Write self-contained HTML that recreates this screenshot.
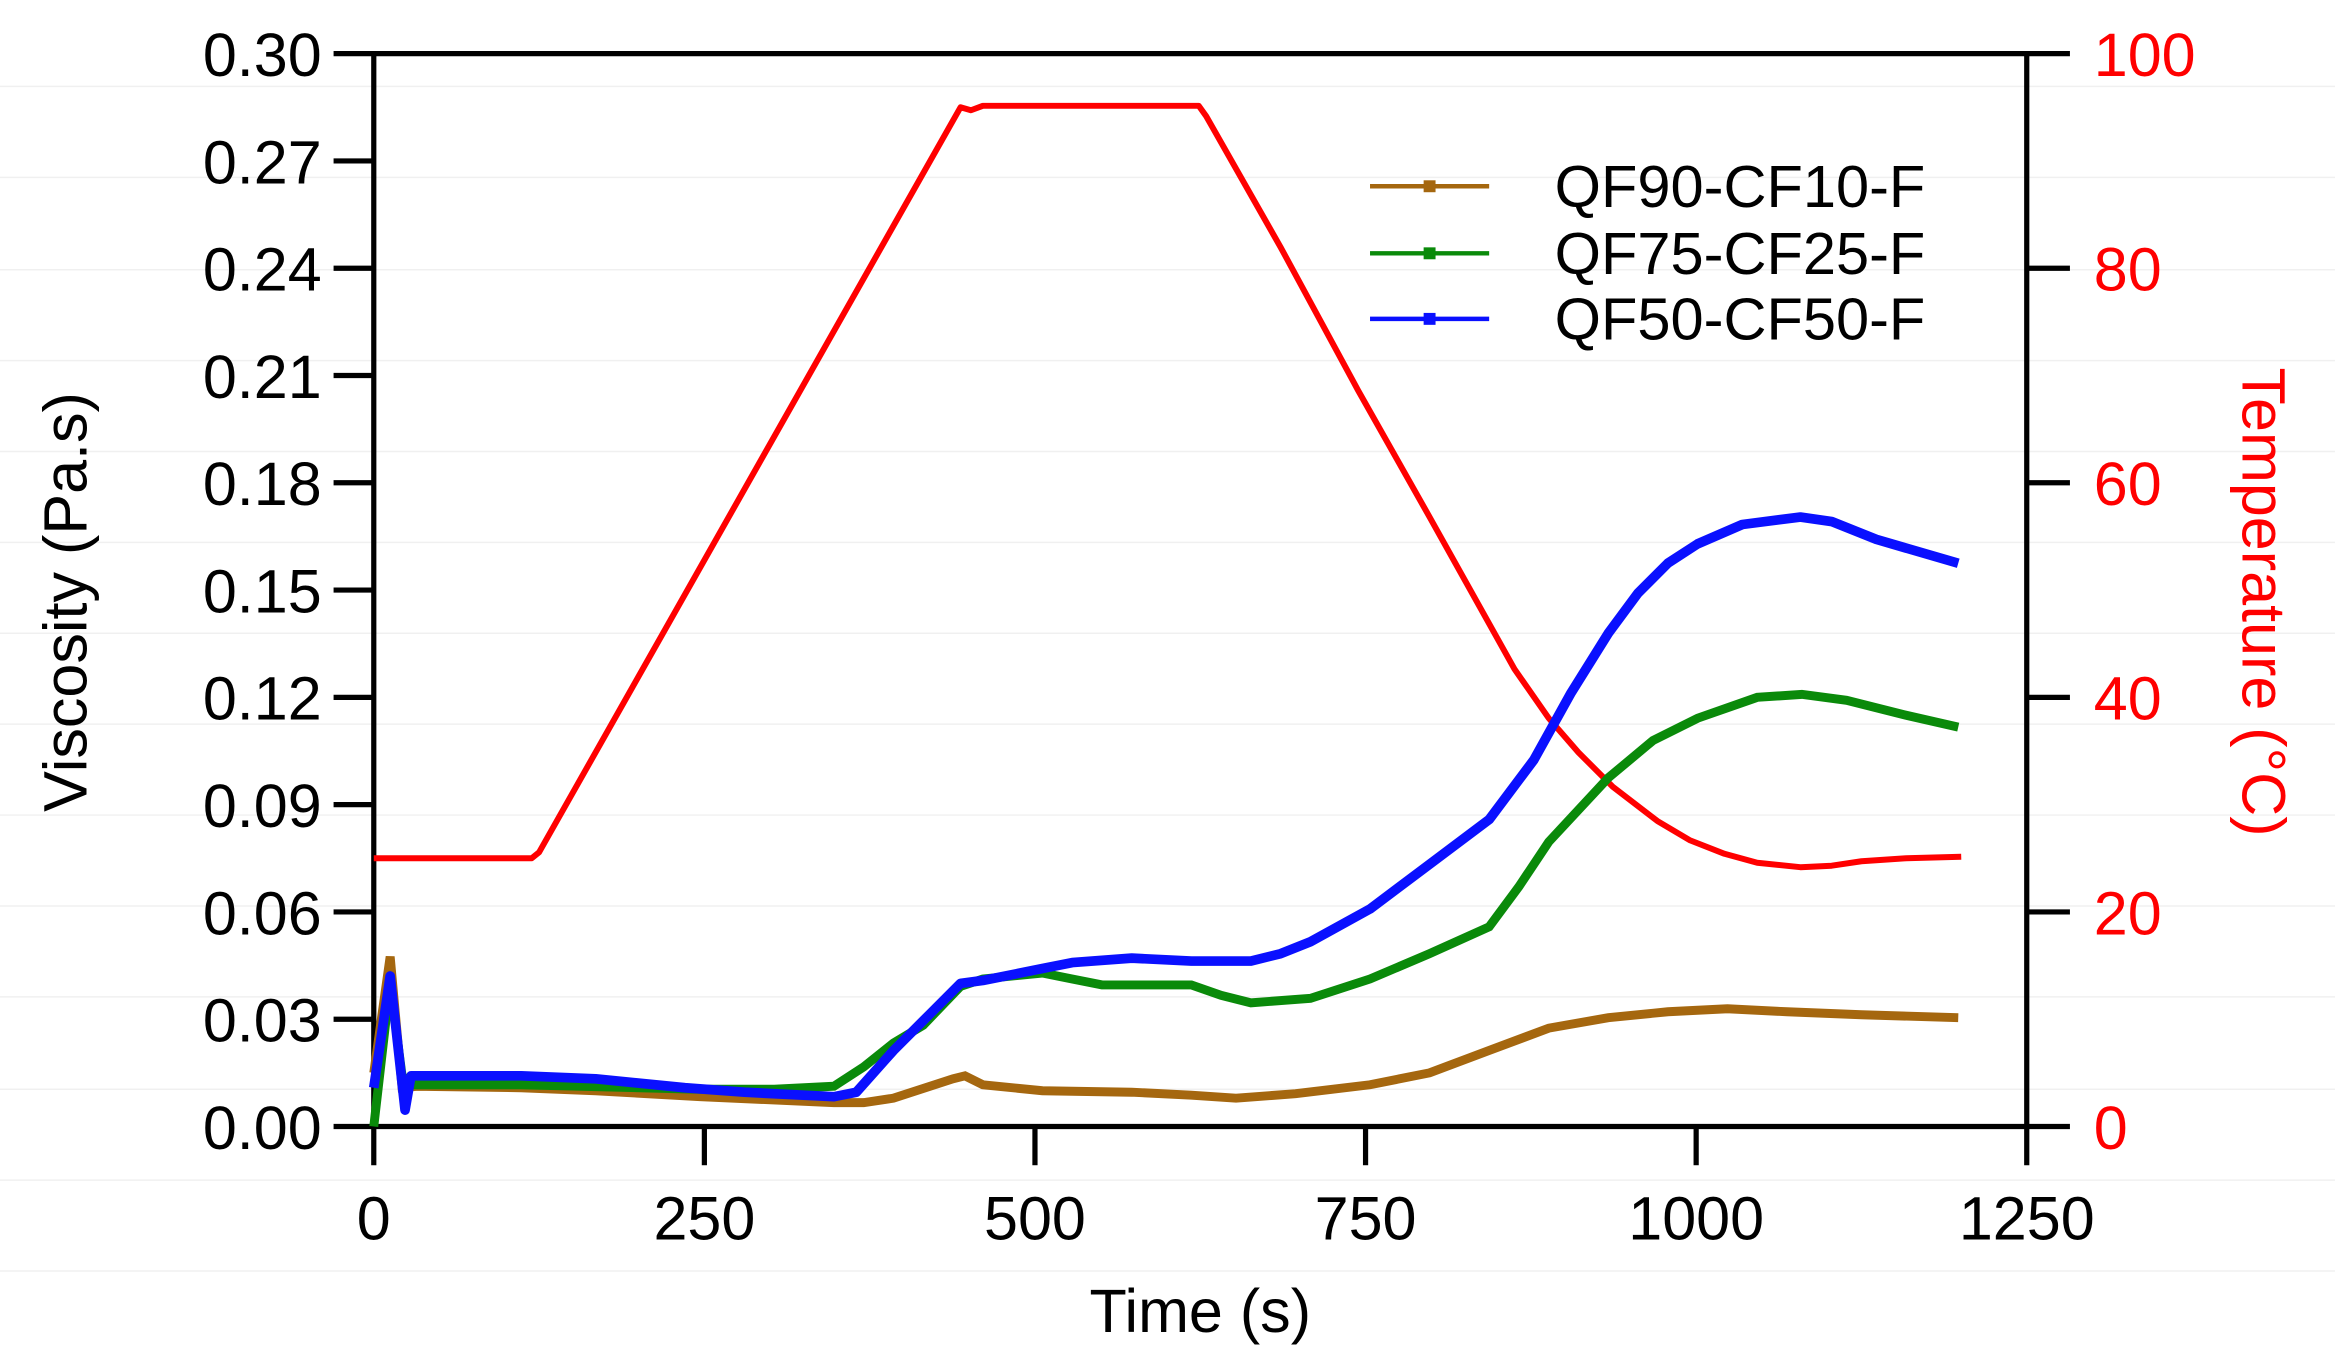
<!DOCTYPE html>
<html><head><meta charset="utf-8"><style>html,body{margin:0;padding:0;background:#fff}svg{display:block}</style></head>
<body>
<svg width="2335" height="1350" viewBox="0 0 1568 906" preserveAspectRatio="none" font-family="Liberation Sans, Arial, sans-serif">
<g stroke="#f0f0f0" stroke-width="1">
<line x1="0" y1="58" x2="1568" y2="58"/><line x1="0" y1="119" x2="1568" y2="119"/><line x1="0" y1="181" x2="1568" y2="181"/><line x1="0" y1="242" x2="1568" y2="242"/><line x1="0" y1="303" x2="1568" y2="303"/><line x1="0" y1="364" x2="1568" y2="364"/><line x1="0" y1="425" x2="1568" y2="425"/><line x1="0" y1="486" x2="1568" y2="486"/><line x1="0" y1="547" x2="1568" y2="547"/><line x1="0" y1="608" x2="1568" y2="608"/><line x1="0" y1="669" x2="1568" y2="669"/><line x1="0" y1="731" x2="1568" y2="731"/><line x1="0" y1="792" x2="1568" y2="792"/><line x1="0" y1="853" x2="1568" y2="853"/>
</g>
<g stroke="#000" stroke-width="3.5" fill="none">
<line x1="251" y1="36" x2="251" y2="782"/>
<line x1="1361" y1="36" x2="1361" y2="782"/>
<line x1="224" y1="36" x2="1390" y2="36"/>
<line x1="224" y1="756" x2="1390" y2="756"/>
<line x1="224" y1="108" x2="251" y2="108"/><line x1="224" y1="180" x2="251" y2="180"/><line x1="224" y1="252" x2="251" y2="252"/><line x1="224" y1="324" x2="251" y2="324"/><line x1="224" y1="396" x2="251" y2="396"/><line x1="224" y1="468" x2="251" y2="468"/><line x1="224" y1="540" x2="251" y2="540"/><line x1="224" y1="612" x2="251" y2="612"/><line x1="224" y1="684" x2="251" y2="684"/>
<line x1="1361" y1="180" x2="1390" y2="180"/><line x1="1361" y1="324" x2="1390" y2="324"/><line x1="1361" y1="468" x2="1390" y2="468"/><line x1="1361" y1="612" x2="1390" y2="612"/>
<line x1="473" y1="756" x2="473" y2="782"/><line x1="695" y1="756" x2="695" y2="782"/><line x1="917" y1="756" x2="917" y2="782"/><line x1="1139" y1="756" x2="1139" y2="782"/>
</g>
<g font-size="41" fill="#000" text-anchor="end">
<text x="216" y="51">0.30</text><text x="216" y="123">0.27</text><text x="216" y="195">0.24</text><text x="216" y="267">0.21</text><text x="216" y="339">0.18</text><text x="216" y="411">0.15</text><text x="216" y="483">0.12</text><text x="216" y="555">0.09</text><text x="216" y="627">0.06</text><text x="216" y="699">0.03</text><text x="216" y="771">0.00</text>
</g>
<g font-size="41" fill="#000" text-anchor="middle">
<text x="251" y="832">0</text><text x="473" y="832">250</text><text x="695" y="832">500</text><text x="917" y="832">750</text><text x="1139" y="832">1000</text><text x="1361" y="832">1250</text>
<text x="806" y="894">Time (s)</text>
</g>
<g font-size="41" fill="#ff0000" text-anchor="start">
<text x="1406" y="51">100</text><text x="1406" y="195">80</text><text x="1406" y="339">60</text><text x="1406" y="483">40</text><text x="1406" y="627">20</text><text x="1406" y="771">0</text>
</g>
<text transform="translate(58,404) rotate(-90)" font-size="41" text-anchor="middle">Viscosity (Pa.s)</text>
<text transform="translate(1506,404) rotate(90)" font-size="41" fill="#ff0000" text-anchor="middle">Temperature (°C)</text>
<polyline fill="none" stroke="#ff0000" stroke-width="4" stroke-linejoin="round" points="251,576 357,576 362,572 645,72 652,74 660,71 805,71 810,78 860,166 912,262 960,347 1017,449 1040,482 1060,505 1083,528 1113,551 1135,564 1158,573 1180,579 1209,582 1230,581 1250,578 1280,576 1317,575"/>
<polyline fill="none" stroke="#a5670f" stroke-width="6" points="251,720 262,642 270,730 280,729 350,730 400,732 470,736 560,740 580,740 600,737 640,724 648,722 660,728 700,732 760,733 800,735 830,737 870,734 920,728 960,720 1000,705 1040,690 1080,683 1120,679 1160,677 1200,679 1250,681 1315,683"/>
<polyline fill="none" stroke="#0a8a0a" stroke-width="6" points="251,756 262,660 270,722 276,728 350,728 470,731 520,731 560,729 580,716 600,700 620,688 645,662 660,657 700,653 720,657 740,661 800,661 820,668 840,673 880,670 920,657 960,640 1000,622 1020,595 1040,565 1080,522 1110,497 1140,482 1180,468 1210,466 1240,470 1280,480 1315,488"/>
<polyline fill="none" stroke="#0a10ff" stroke-width="6.5" stroke-linejoin="round" points="251,730 262,655 272,745 276,722 350,722 400,724 460,730 500,733 560,736 575,733 600,705 625,680 645,660 660,658 700,650 720,646 760,643 800,645 840,645 860,640 880,632 920,610 960,580 1000,550 1030,510 1055,465 1080,425 1100,398 1120,378 1140,365 1170,352 1209,347 1230,350 1260,362 1315,378"/>
<line x1="920" y1="125" x2="1000" y2="125" stroke="#a5670f" stroke-width="3"/><rect x="956" y="121" width="8" height="8" fill="#a5670f"/>
<line x1="920" y1="170" x2="1000" y2="170" stroke="#0a8a0a" stroke-width="3"/><rect x="956" y="166" width="8" height="8" fill="#0a8a0a"/>
<line x1="920" y1="214" x2="1000" y2="214" stroke="#0a10ff" stroke-width="3"/><rect x="956" y="210" width="8" height="8" fill="#0a10ff"/>
<g font-size="40" fill="#000">
<text x="1044" y="139">QF90-CF10-F</text><text x="1044" y="184">QF75-CF25-F</text><text x="1044" y="228">QF50-CF50-F</text>
</g>
</svg>
</body></html>
